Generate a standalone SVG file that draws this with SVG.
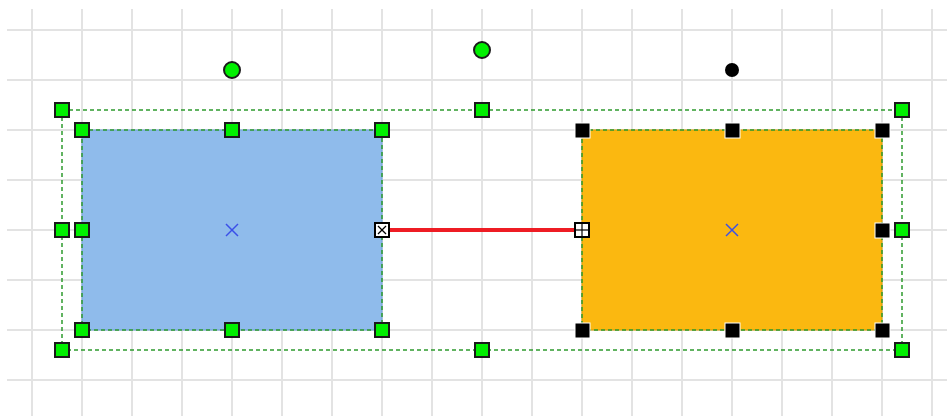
<svg xmlns="http://www.w3.org/2000/svg" width="947" height="416" viewBox="0 0 947 416">
<defs>
<style>
.grid line{stroke:#e3e3e3;stroke-width:2}
.sel{fill:none;stroke:#2e9a2e;stroke-width:1.5;stroke-dasharray:4 3}
.hg{fill:#00f000;stroke:#1a1a1a;stroke-width:2}
.hb{fill:#000;stroke:#fff;stroke-width:1}
.cx{stroke:#3a4fe8;stroke-width:1.5}
.cp{fill:#fff;stroke:#000;stroke-width:2}
.cpl{stroke:#000;stroke-width:1.2}
</style>
</defs>
<rect width="947" height="416" fill="#fff"/>
<g class="grid">
<line x1="7" y1="30" x2="947" y2="30"/><line x1="7" y1="80" x2="947" y2="80"/><line x1="7" y1="130" x2="947" y2="130"/><line x1="7" y1="180" x2="947" y2="180"/><line x1="7" y1="230" x2="947" y2="230"/><line x1="7" y1="280" x2="947" y2="280"/><line x1="7" y1="330" x2="947" y2="330"/><line x1="7" y1="380" x2="947" y2="380"/>
<line x1="32" y1="9" x2="32" y2="416"/><line x1="82" y1="9" x2="82" y2="416"/><line x1="132" y1="9" x2="132" y2="416"/><line x1="182" y1="9" x2="182" y2="416"/><line x1="232" y1="9" x2="232" y2="416"/><line x1="282" y1="9" x2="282" y2="416"/><line x1="332" y1="9" x2="332" y2="416"/><line x1="382" y1="9" x2="382" y2="416"/><line x1="432" y1="9" x2="432" y2="416"/><line x1="482" y1="9" x2="482" y2="416"/><line x1="532" y1="9" x2="532" y2="416"/><line x1="582" y1="9" x2="582" y2="416"/><line x1="632" y1="9" x2="632" y2="416"/><line x1="682" y1="9" x2="682" y2="416"/><line x1="732" y1="9" x2="732" y2="416"/><line x1="782" y1="9" x2="782" y2="416"/><line x1="832" y1="9" x2="832" y2="416"/><line x1="882" y1="9" x2="882" y2="416"/><line x1="932" y1="9" x2="932" y2="416"/>
</g>
<g id="blue-box">
<rect x="82" y="130" width="300" height="200" fill="#8fbbeb" stroke="#6f9fd6" stroke-width="1"/>
<rect class="sel" x="82" y="130" width="300" height="200"/>
<line class="cx" x1="226" y1="224" x2="238" y2="236"/><line class="cx" x1="238" y1="224" x2="226" y2="236"/>
</g>
<g id="orange-box">
<rect x="582" y="130" width="300" height="200" fill="#fbb810" stroke="#d99a00" stroke-width="1"/>
<rect class="sel" x="582" y="130" width="300" height="200"/>
<line class="cx" x1="726" y1="224" x2="738" y2="236"/><line class="cx" x1="738" y1="224" x2="726" y2="236"/>
</g>
<g id="connectors">
<line x1="382" y1="230" x2="582" y2="230" stroke="#ee1c24" stroke-width="4"/>
</g>
<g id="selection">
<rect class="sel" x="62" y="110" width="840" height="240"/>
</g>
<g id="blue-handles">
<rect class="hg" x="75" y="123" width="14" height="14"/><rect class="hg" x="225" y="123" width="14" height="14"/><rect class="hg" x="375" y="123" width="14" height="14"/>
<rect class="hg" x="75" y="223" width="14" height="14"/>
<rect class="hg" x="75" y="323" width="14" height="14"/><rect class="hg" x="225" y="323" width="14" height="14"/><rect class="hg" x="375" y="323" width="14" height="14"/>
<circle class="hg" cx="232" cy="70" r="8"/>
</g>
<g id="orange-handles">
<rect class="hb" x="575" y="123" width="15" height="15"/><rect class="hb" x="725" y="123" width="15" height="15"/><rect class="hb" x="875" y="123" width="15" height="15"/>
<rect class="hb" x="875" y="223" width="15" height="15"/>
<rect class="hb" x="575" y="323" width="15" height="15"/><rect class="hb" x="725" y="323" width="15" height="15"/><rect class="hb" x="875" y="323" width="15" height="15"/>
<circle cx="732" cy="70" r="7" fill="#000"/>
</g>
<g id="group-handles">
<rect class="hg" x="55" y="103" width="14" height="14"/><rect class="hg" x="475" y="103" width="14" height="14"/><rect class="hg" x="895" y="103" width="14" height="14"/>
<rect class="hg" x="55" y="223" width="14" height="14"/><rect class="hg" x="895" y="223" width="14" height="14"/>
<rect class="hg" x="55" y="343" width="14" height="14"/><rect class="hg" x="475" y="343" width="14" height="14"/><rect class="hg" x="895" y="343" width="14" height="14"/>
<circle class="hg" cx="482" cy="50" r="8"/>
</g>
<g id="connection-points">
<rect class="cp" x="375" y="223" width="14" height="14"/>
<line class="cpl" x1="378" y1="226" x2="386" y2="234"/><line class="cpl" x1="386" y1="226" x2="378" y2="234"/>
<rect class="cp" x="575" y="223" width="14" height="14"/>
<line class="cpl" x1="582" y1="223" x2="582" y2="237"/><line class="cpl" x1="575" y1="230" x2="589" y2="230"/>
</g>
</svg>
